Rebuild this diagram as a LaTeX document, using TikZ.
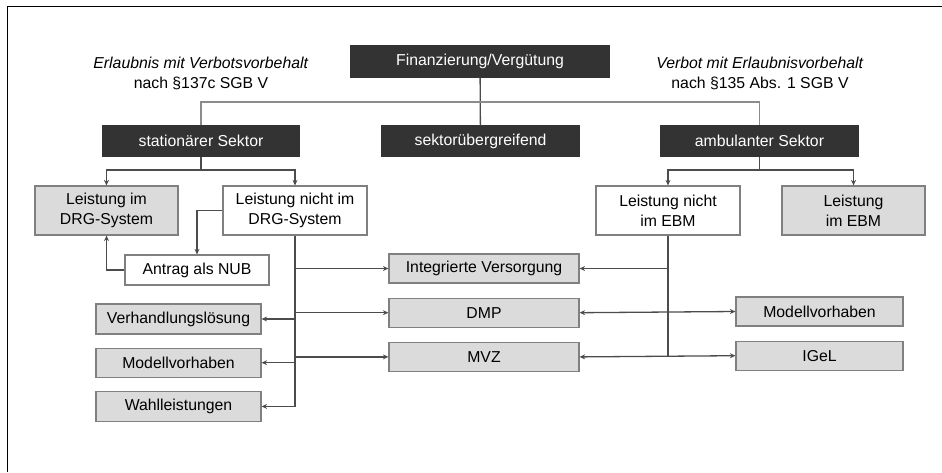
\documentclass[tikz,border=0pt]{standalone}
\usepackage{fontspec}
\setmainfont{Liberation Sans}
\usepackage{tikz}
\usetikzlibrary{positioning}
\usetikzlibrary{arrows.meta,calc}

\begin{document}
\begin{tikzpicture}[%
    x=1pt, y=-1pt,
    font=\fontsize{15.8}{20}\selectfont,
    >={Stealth[length=5.5pt,width=5pt]},
    basic/.style={draw=black!50,line width=1.2pt,inner sep=0pt,align=center},
    dark/.style={basic,draw=black!80,fill=black!80,text=white,minimum height=30pt},
    plain/.style={basic,fill=white},
    grey/.style={basic,fill=black!14},
    conn/.style={draw=black!70,line width=1.3pt},
    note/.style={align=center,inner sep=0pt}
]
        \useasboundingbox (0,0) rectangle (942,472);
        \draw[black,line width=1pt] (7,472) -- (7,6) -- (942,6);

        \node[dark,minimum width=258pt,minimum height=31pt] (fin) at (480,61.5) {Finanzierung/Vergütung};
        \node[note] (erl) at (201,73) {\textit{Erlaubnis mit Verbotsvorbehalt}\\nach §137c SGB V};
        \node[note] (verb) at (760,73) {\textit{Verbot mit Erlaubnisvorbehalt}\\nach §135 Abs. 1 SGB V};

        \node[dark,minimum width=196pt] (stat) at (201,141) {stationärer Sektor};
        \node[dark,minimum width=197pt] (sekt) at (480.5,141) {sektorübergreifend};
        \node[dark,minimum width=197pt] (amb) at (759.5,141) {ambulanter Sektor};

        \node[grey,minimum width=143pt,minimum height=49pt] (drg) at (106.5,210.5) {Leistung im\\DRG-System};
        \node[plain,minimum width=144pt,minimum height=49pt] (ndrg) at (295,210.5) {Leistung nicht im\\DRG-System};
        \node[plain,minimum width=144pt,minimum height=49pt] (nebm) at (668,210.5) {Leistung nicht\\im EBM};
        \node[grey,minimum width=143pt,minimum height=49pt] (ebm) at (853.5,210.5) {Leistung\\im EBM};

        \node[plain,minimum width=144pt,minimum height=30pt] (nub) at (197,270) {Antrag als NUB};

        \node[grey,minimum width=165pt,minimum height=30pt] (verh) at (178.5,319) {Verhandlungslösung};
        \node[grey,minimum width=165pt,minimum height=29pt,below = 13pt of verh] (modl) {Modellvorhaben};
        \node[grey,minimum width=165pt,minimum height=30pt,below = 13pt of modl] (wahl) {Wahlleistungen};

        \node[grey,minimum width=190pt,minimum height=29pt] (iv) at (484,268.5) {Integrierte Versorgung};
        \node[grey,minimum width=190pt,minimum height=29pt,below = 14pt of iv] (dmp) {DMP};
        \node[grey,minimum width=190pt,minimum height=29pt,below = 14pt of dmp] (mvz) {MVZ};

        \node[grey,minimum width=167pt,minimum height=29pt] (modr) at (819.5,311.5) {Modellvorhaben};
        \node[grey,minimum width=167pt,minimum height=29pt,below = 14pt of modr] (igel) {IGeL};

        % oberste Ebene
        \coordinate (top) at (480,102);
        \path[conn] (fin) -- (sekt);
        \path[conn,draw=black!45] (stat.north) |- (top) -| (amb.north);

        % stationaer
        \coordinate (sj) at (201,170);
        \path[conn] (stat) -- (sj);
        \path[conn,->] (sj) -| (drg);
        \path[conn,->] (sj) -| (ndrg);
        \path[conn,->] (ndrg.west) -| (nub.north);
        \path[conn,->] (nub.west) -| (drg.south);

        % ambulant
        \coordinate (aj) at (759.5,170);
        \path[conn] (amb) -- (aj);
        \path[conn,->] (aj) -| (nebm);
        \path[conn,->] (aj) -| (ebm);

        % Stamm links
        \path[conn,->] (ndrg.south) |- (wahl.east);
        \path[conn,->] (ndrg.south |- verh.east) -- (verh.east);
        \path[conn,->] (ndrg.south |- modl.east) -- (modl.east);
        \path[conn,->] (ndrg.south |- iv.west) -- (iv.west);
        \path[conn,->] (ndrg.south |- dmp.west) -- (dmp.west);
        \path[conn,->] (ndrg.south |- mvz.west) -- (mvz.west);

        % Stamm rechts
        \path[conn] (nebm.south) -- (nebm.south |- mvz.east);
        \path[conn,->] (nebm.south |- iv.east) -- (iv.east);
        \path[conn,<->] (dmp.east) -- (modr.west);
        \path[conn,<->] (mvz.east) -- (igel.west);
\end{tikzpicture}
\end{document}
